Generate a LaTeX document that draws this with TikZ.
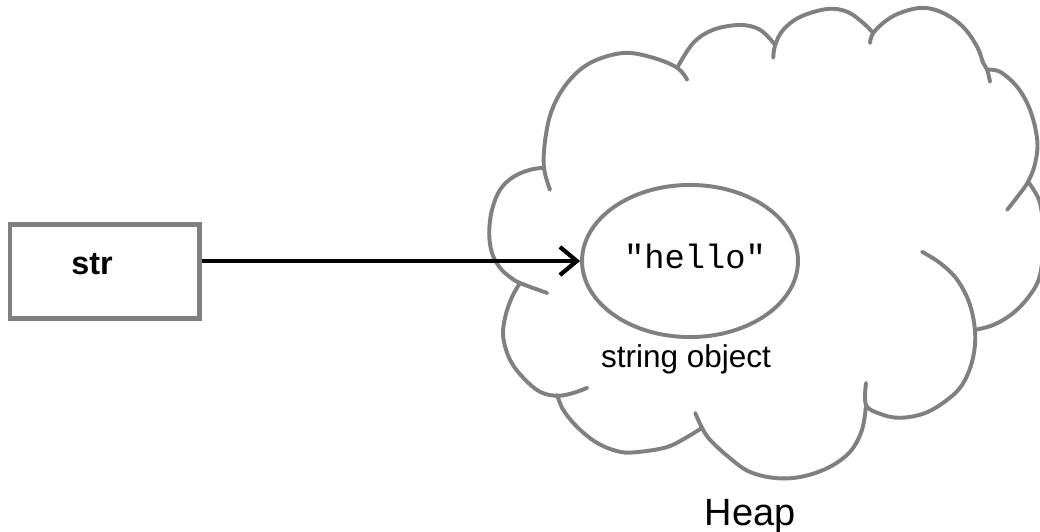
\documentclass[tikz,border=0pt]{standalone}
\usepackage{fontspec}
\setmainfont{Liberation Sans}
\setmonofont{Liberation Mono}
\usepackage{tikz}
\usetikzlibrary{shapes.geometric}
\usetikzlibrary{arrows.meta}
\definecolor{heapgray}{RGB}{128,128,128}
\tikzset{
	lobe/.style={draw=heapgray, line width=1.4pt, line cap=round},
	membox/.style={draw=heapgray, line width=1.7pt, minimum width=67.4pt, minimum height=33.4pt, inner sep=0pt,
		font=\bfseries\fontsize{11.5}{13}\selectfont},
	objoval/.style={ellipse, draw=heapgray, line width=1.4pt, minimum width=76.8pt, minimum height=54.1pt, inner sep=0pt,
		font=\ttfamily\fontsize{12}{14}\selectfont},
}

\begin{document}
\begin{tikzpicture}[scale=0.5, >={Straight Barb[length=6pt,width=10pt]}]
	\useasboundingbox (0,0) rectangle (26,13.275);
	%% reference variable
	\node[membox] (str) at (2.62,6.49) {\raisebox{5pt}{str}\kern9pt};
	%% heap cloud
	\draw[lobe] plot [smooth, tension=0.6] coordinates {(13.6,9.08) (13.25,9.03) (12.83,8.85) (12.5,8.53) (12.3,8.03) (12.23,7.45) (12.3,6.95) (12.5,6.58) (12.75,6.35) (13,6.2) (13.68,5.95)};
	\draw[lobe] plot [smooth, tension=0.6] coordinates {(13.75,8.53) (13.6,9.08) (13.63,9.78) (13.8,10.53) (14.18,11.2) (14.75,11.7) (15.58,11.95) (16.33,11.83) (16.93,11.58) (17.18,11.28)};
	\draw[lobe] plot [smooth, tension=0.6] coordinates {(16.93,11.58) (17.33,12.2) (17.83,12.53) (18.5,12.65) (19,12.53) (19.38,12.15)};
	\draw[lobe] plot [smooth, tension=0.6] coordinates {(19.33,11.83) (19.38,12.15) (19.58,12.53) (20,12.85) (20.68,13.05) (21.18,12.98) (21.58,12.7) (21.83,12.45)};
	\draw[lobe] plot [smooth, tension=0.6] coordinates {(21.75,12.2) (21.83,12.45) (22.18,12.78) (22.58,12.98) (23.08,13.08) (23.58,12.95) (24.08,12.6) (24.43,12.1) (24.58,11.7) (24.68,11.53) (24.75,11.23)};
	\draw[lobe] plot [smooth, tension=0.6] coordinates {(24.68,11.53) (25,11.48) (25.43,11.1) (25.75,10.53) (25.93,9.78) (25.88,9.2) (25.7,8.73) (25.43,8.35) (25.18,8.03)};
	\draw[lobe] plot [smooth, tension=0.6] coordinates {(25.7,8.73) (26,8.2) (26.08,7.28) (26,6.4) (25.75,5.9) (25.33,5.45) (24.83,5.15) (24.37,5.03)};
	\draw[lobe] plot [smooth, tension=0.6] coordinates {(23.05,6.98) (23.5,6.7) (23.93,6.28) (24.25,5.65) (24.38,4.9) (24.3,4.23) (24.05,3.65) (23.68,3.28) (23.13,2.95) (22.5,2.83) (22,2.93) (21.65,3.15) (21.65,3.7)};
	\draw[lobe] plot [smooth, tension=0.6] coordinates {(21.65,3.15) (21.55,2.53) (21.25,1.98) (20.7,1.58) (20,1.35) (19.33,1.33) (18.7,1.5) (18.18,1.88) (17.75,2.28) (17.55,2.58) (17.38,2.95)};
	\draw[lobe] plot [smooth, tension=0.6] coordinates {(17.55,2.58) (17.18,2.35) (16.68,2.1) (16,1.98) (15.5,1.98) (14.93,2.2) (14.43,2.6) (14.08,3.03) (13.93,3.4)};
	\draw[lobe] plot [smooth, tension=0.6] coordinates {(13,6.2) (12.8,5.85) (12.63,5.35) (12.58,4.85) (12.75,4.28) (13.08,3.83) (13.5,3.48) (13.93,3.38) (14.33,3.45) (14.68,3.58)};
	%% object in the heap
	\node[objoval] (hello) at (17.25,6.75) {\kern3.5pt\raisebox{3.5pt}{"hello"}};
	\node[anchor=base, font=\fontsize{11.2}{13}\selectfont] (strobj) at (17.15,4.1) {string object};
	\node[anchor=base, font=\fontsize{13.5}{16}\selectfont] (heap) at (18.75,0.15) {Heap};
	%% reference arrow
	\draw[->, line width=1.5pt] (str.east |- hello.west) -- (hello.west);
\end{tikzpicture}
\end{document}
